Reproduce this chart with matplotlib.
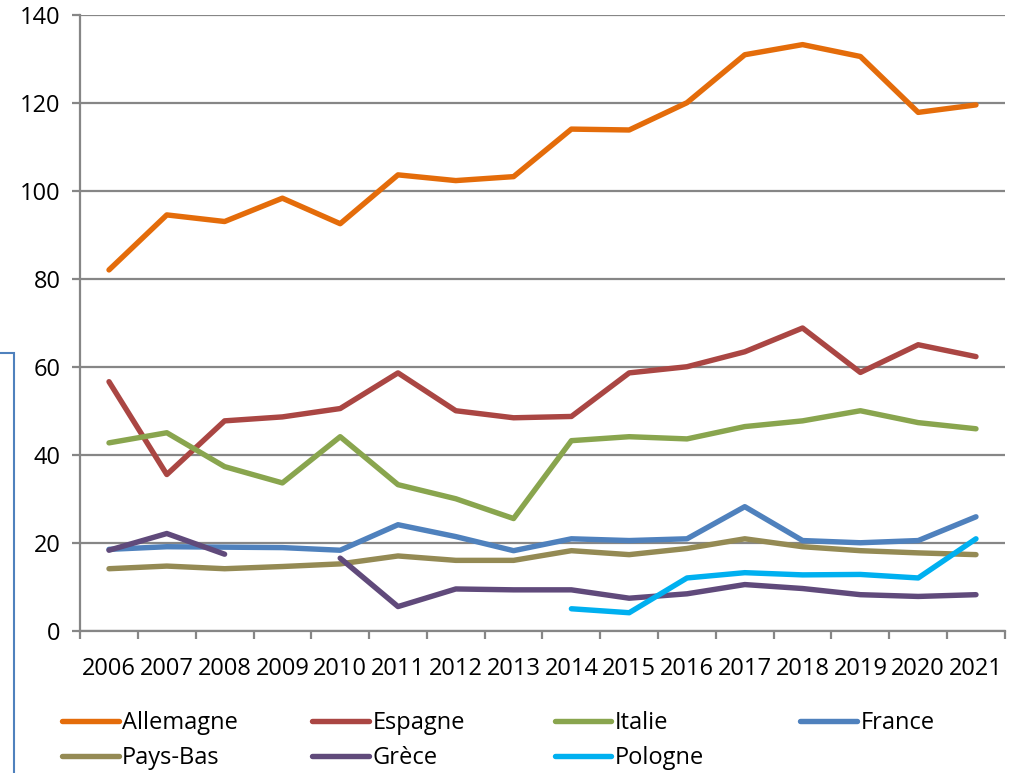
import numpy as np
import matplotlib
matplotlib.use("Agg")
import matplotlib.pyplot as plt
from matplotlib.patches import Rectangle

plt.rcParams['font.family'] = ['Open Sans', 'DejaVu Sans']

years = [str(y) for y in range(2006, 2022)]
nan = np.nan

allemagne = [82, 94.5, 93, 98.3, 92.5, 103.6, 102.3, 103.2, 114, 113.8, 120, 130.9, 133.2, 130.5, 117.8, 119.5]
espagne = [56.6, 35.5, 47.7, 48.6, 50.5, 58.6, 50, 48.4, 48.7, 58.6, 60, 63.4, 68.8, 58.7, 65, 62.3]
italie = [42.7, 45, 37.3, 33.6, 44.1, 33.2, 30, 25.5, 43.2, 44.1, 43.6, 46.4, 47.7, 50, 47.3, 45.9]
france = [18.5, 19.1, 19, 18.9, 18.3, 24.1, 21.4, 18.2, 20.9, 20.5, 20.9, 28.2, 20.5, 20, 20.5, 25.9]
pays_bas = [14.1, 14.7, 14.1, 14.6, 15.2, 17, 16, 16, 18.2, 17.3, 18.7, 20.9, 19.1, 18.2, 17.7, 17.3]
grece = [18.3, 22.1, 17.4, nan, 16.5, 5.5, 9.5, 9.3, 9.3, 7.4, 8.4, 10.5, 9.6, 8.2, 7.8, 8.2]
pologne = [nan, nan, nan, nan, nan, nan, nan, nan, 5, 4.1, 12, 13.2, 12.7, 12.8, 12, 20.9]

series = [
    ("Allemagne", allemagne, "#E46C0A"),
    ("Espagne", espagne, "#AA4643"),
    ("Italie", italie, "#89A54E"),
    ("France", france, "#4F81BD"),
    ("Pays-Bas", pays_bas, "#948A54"),
    ("Grèce", grece, "#604A7B"),
    ("Pologne", pologne, "#00B0F0"),
]

fig = plt.figure(figsize=(10.14, 7.73), dpi=100)
ax = fig.add_axes([0.079, 0.184, 0.912, 0.797])

x = np.arange(len(years))
handles = {}
for name, vals, col in series:
    h, = ax.plot(x, vals, color=col, lw=3.9, solid_capstyle='round',
                 solid_joinstyle='round', label=name, zorder=3)
    handles[name] = h

grid_col = "#868686"
ax.set_ylim(0, 140)
ax.set_yticks(range(0, 141, 20))
ax.set_xlim(-0.5, len(years) - 0.5)
ax.set_xticks(np.arange(-0.5, len(years), 1))
ax.set_xticklabels([])
ax.set_xticks(x, minor=True)
ax.set_xticklabels(years, minor=True)
ax.yaxis.grid(True, color=grid_col, lw=1.6, zorder=1)
ax.set_axisbelow(True)

for s in ['top', 'right']:
    ax.spines[s].set_visible(False)
for s in ['left', 'bottom']:
    ax.spines[s].set_color(grid_col)
    ax.spines[s].set_linewidth(1.6)

ax.tick_params(axis='y', which='major', length=6, width=1.6, color=grid_col,
               labelsize=17, pad=8)
ax.tick_params(axis='x', which='major', length=6, width=1.6, color=grid_col)
ax.tick_params(axis='x', which='minor', length=0, labelsize=17, pad=19)

# legend: four columns placed at fixed x positions
cols = [["Allemagne", "Pays-Bas"], ["Espagne", "Grèce"], ["Italie", "Pologne"], ["France"]]
col_x = [0.061, 0.308, 0.547, 0.789]
for cx, names in zip(col_x, cols):
    fig.legend([handles[n] for n in names], names, loc='upper left',
               bbox_to_anchor=(cx, 0.080), frameon=False, fontsize=17,
               handlelength=2.4, handletextpad=0.15, labelspacing=0.45,
               borderaxespad=0, borderpad=0)

# border of neighbouring shape on the left
fig.add_artist(Rectangle((-0.05, -0.05), 0.064, 0.593, transform=fig.transFigure,
                         fill=False, edgecolor="#4F81BD", lw=1.5))

fig.savefig("out.png", dpi=100)
